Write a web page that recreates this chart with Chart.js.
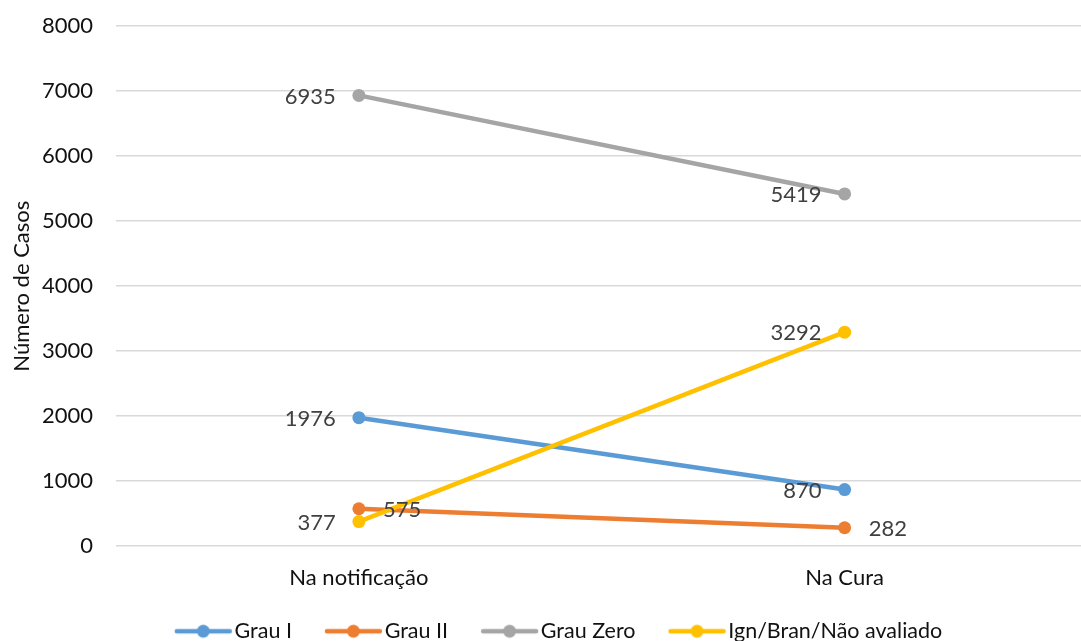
<!DOCTYPE html>
<html>
<head>
<meta charset="utf-8">
<script src="https://cdn.jsdelivr.net/npm/chart.js@4"></script>
<style>
  html, body { margin: 0; padding: 0; background: #fff; overflow: hidden; }
  #wrap { position: relative; top: -10px; width: 1094px; height: 662px; }
</style>
</head>
<body>
<div id="wrap"><canvas id="chart"></canvas></div>
<script>
"use strict";

// Data ----------------------------------------------------------------------
const categories = ["Na notificação", "Na Cura"];
const seriesNames = ["Grau I", "Grau II", "Grau Zero", "Ign/Bran/Não avaliado"];
const grauI = [1976, 870];
const grauII = [575, 282];
const grauZero = [6935, 5419];
const ignorado = [377, 3292];
const yTicks = [0, 1000, 2000, 3000, 4000, 5000, 6000, 7000, 8000];

// Styling -------------------------------------------------------------------
const FONT = "Lato, 'Open Sans', sans-serif";
const FONT_SIZE = 22;
const colors = ["#5B9BD5", "#ED7D31", "#A5A5A5", "#FFC000"];
// which side of each point its value label goes
const labelSide = [
  ["left", "left"],
  ["right", "right"],
  ["left", "left"],
  ["left", "left"],
];

// legend box geometry
const LEGEND_BOX = 72;
const LEGEND_IMG = 90;

// legend marker: a short line with a dot in the middle, sitting at the
// right of a wider transparent image so the text follows right after it
function legendMarker(color) {
  const c = document.createElement("canvas");
  c.width = LEGEND_IMG;
  c.height = 16;
  const g = c.getContext("2d");
  const x0 = LEGEND_IMG - 58;
  g.strokeStyle = color;
  g.lineWidth = 4.5;
  g.lineCap = "round";
  g.beginPath();
  g.moveTo(x0 + 2, 8);
  g.lineTo(x0 + 55, 8);
  g.stroke();
  g.fillStyle = color;
  g.beginPath();
  g.arc(x0 + 28.5, 8, 6.5, 0, Math.PI * 2);
  g.fill();
  return c;
}

// value labels next to each point
const valueLabels = {
  id: "valueLabels",
  afterDatasetsDraw(chart) {
    const ctx = chart.ctx;
    ctx.save();
    ctx.font = FONT_SIZE + "px " + FONT;
    ctx.fillStyle = "#404040";
    ctx.textBaseline = "middle";
    chart.data.datasets.forEach((ds, i) => {
      const meta = chart.getDatasetMeta(i);
      meta.data.forEach((pt, j) => {
        const side = labelSide[i][j];
        ctx.textAlign = side === "left" ? "right" : "left";
        const dx = side === "left" ? -23 : 24;
        ctx.fillText(String(ds.data[j]), pt.x + dx, pt.y + 1);
      });
    });
    ctx.restore();
  },
};

const allSeries = [grauI, grauII, grauZero, ignorado];
const datasets = allSeries.map((values, i) => ({
  label: seriesNames[i],
  data: values,
  borderColor: colors[i],
  backgroundColor: colors[i],
  borderWidth: 4.5,
  pointRadius: 6.5,
  pointHoverRadius: 6.5,
  pointBorderWidth: 0,
  pointStyle: "circle",
  tension: 0,
  order: allSeries.length - i,
  legendMarker: legendMarker(colors[i]),
}));

new Chart(document.getElementById("chart"), {
  type: "line",
  data: { labels: categories, datasets },
  options: {
    responsive: true,
    maintainAspectRatio: false,
    animation: false,
    layout: { padding: { left: 0, right: 0, top: 5, bottom: 0 } },
    scales: {
      x: {
        offset: true,
        grid: { display: false, drawTicks: false },
        border: { display: false },
        ticks: { color: "#111", font: { family: FONT, size: FONT_SIZE }, padding: 19 },
      },
      y: {
        min: 0,
        max: 8000,
        afterBuildTicks(scale) {
          scale.ticks = yTicks.map((v) => ({ value: v }));
        },
        afterFit(scale) {
          scale.width = 116;
        },
        grid: { color: "#d9d9d9", lineWidth: 1.5, drawTicks: false },
        border: { display: false },
        ticks: {
          color: "#111",
          font: { family: FONT, size: FONT_SIZE },
          padding: 23,
          callback: (v) => String(v),
        },
        title: {
          display: true,
          text: "Número de Casos",
          color: "#111",
          font: { family: FONT, size: FONT_SIZE },
          padding: { top: 9, bottom: 0 },
        },
      },
    },
    plugins: {
      tooltip: { enabled: false },
      legend: {
        position: "bottom",
        labels: {
          usePointStyle: true,
          pointStyleWidth: LEGEND_BOX,
          padding: 10,
          color: "#111",
          font: { family: FONT, size: 21.5 },
          sort: (a, b) => a.datasetIndex - b.datasetIndex,
          generateLabels(chart) {
            const base = Chart.defaults.plugins.legend.labels.generateLabels(chart);
            return base.map((item) => {
              item.pointStyle = chart.data.datasets[item.datasetIndex].legendMarker;
              return item;
            });
          },
        },
      },
    },
  },
  plugins: [valueLabels],
});
</script>
</body>
</html>
